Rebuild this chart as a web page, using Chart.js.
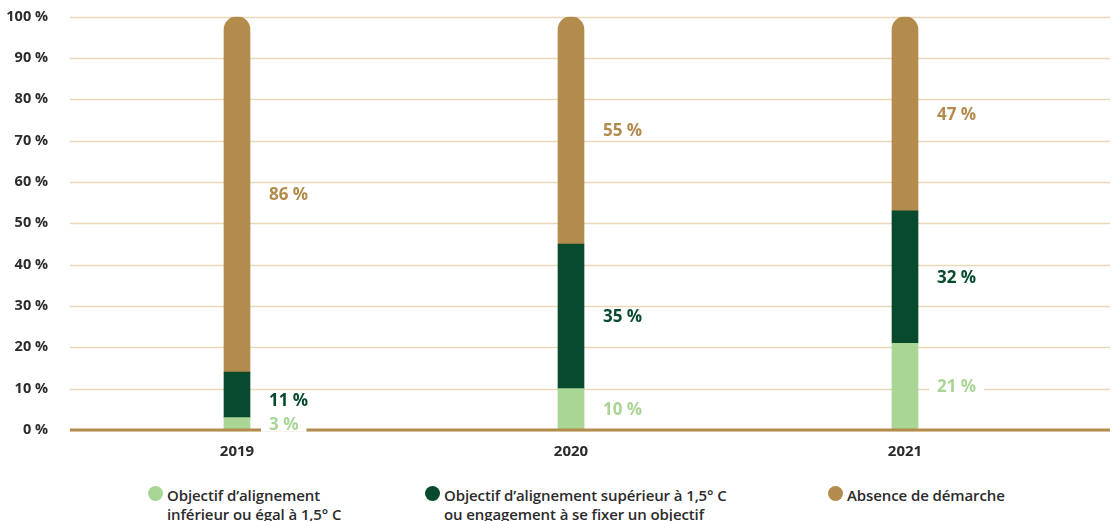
<!DOCTYPE html>
<html lang="fr">
<head>
<meta charset="utf-8">
<style>
  html, body { margin: 0; padding: 0; background: #fff; }
  body { width: 1113px; height: 521px; overflow: hidden; position: relative; font-family: "Open Sans", Lato, sans-serif; }
  #wrap { position: absolute; left: 0; top: -14px; width: 1113px; height: 480px; }
  .leg { position: absolute; top: 486px; font-size: 15px; font-weight: 600; color: #2b2b2b; line-height: 19px; padding-left: 19px; letter-spacing: -0.1px; }
  .leg i { position: absolute; left: 0; top: 0px; width: 15px; height: 15px; border-radius: 50%; }
</style>
</head>
<body>
<div id="wrap"><canvas id="alignChart"></canvas></div>
<div id="legend"></div>

<script src="https://cdn.jsdelivr.net/npm/chart.js"></script>
<script>
  // Années et parts (%) par type de démarche
  const annees = ['2019', '2020', '2021'];
  const inferieur = [3, 10, 21];
  const superieur = [11, 35, 32];
  const absence = [86, 55, 47];
  const yTicks = [0, 10, 20, 30, 40, 50, 60, 70, 80, 90, 100];

  const legendes = [
    ['Objectif d\u2019alignement', 'inférieur ou égal à 1,5° C'],
    ['Objectif d\u2019alignement supérieur à 1,5° C', 'ou engagement à se fixer un objectif'],
    ['Absence de démarche']
  ];
  const couleurs = ['#a9d595', '#074a2d', '#b38b4d'];
  const police = '"Open Sans", sans-serif';

  // grille horizontale prolongée jusqu'au bord droit
  const grille = {
    id: 'grille',
    beforeDatasetsDraw(chart) {
      const { ctx, chartArea, scales: { y } } = chart;
      ctx.save();
      yTicks.forEach(v => {
        const py = Math.round(y.getPixelForValue(v)) + 0.5;
        ctx.beginPath();
        ctx.strokeStyle = '#e9d7b8';
        ctx.lineWidth = 1.5;
        ctx.moveTo(chartArea.left, py);
        ctx.lineTo(chart.width - 3, py);
        ctx.stroke();
      });
      ctx.restore();
    },
    afterDatasetsDraw(chart) {
      const { ctx, chartArea, scales: { y } } = chart;
      const py = y.getPixelForValue(0);
      ctx.save();
      ctx.strokeStyle = '#b38b4d';
      ctx.lineWidth = 3;
      ctx.beginPath();
      ctx.moveTo(chartArea.left, py);
      ctx.lineTo(chart.width - 3, py);
      ctx.stroke();
      ctx.restore();
    }
  };

  // étiquettes de valeur à droite de chaque segment
  const etiquettes = {
    id: 'etiquettes',
    afterDatasetsDraw(chart) {
      const { ctx } = chart;
      ctx.save();
      ctx.font = '700 17px ' + police;
      ctx.textBaseline = 'middle';
      ctx.textAlign = 'left';
      chart.data.datasets.forEach((ds, i) => {
        chart.getDatasetMeta(i).data.forEach((bar, j) => {
          const txt = ds.data[j] + ' %';
          const x = bar.x + 32;
          let y = (bar.y + bar.base) / 2;
          // petit segment de 2019 : on écarte les deux étiquettes
          if (i === 1 && ds.data[j] + inferieur[j] < 16) y += 5;
          const w = ctx.measureText(txt).width;
          ctx.fillStyle = '#fff';
          ctx.fillRect(x - 8, y - 8, w + 16, 16);
          ctx.fillStyle = ds.backgroundColor;
          ctx.fillText(txt, x, y + 1);
        });
      });
      ctx.restore();
    }
  };

  new Chart(document.getElementById('alignChart'), {
    type: 'bar',
    data: {
      labels: annees,
      datasets: [
        { label: legendes[0].join(' '), data: inferieur, backgroundColor: couleurs[0] },
        { label: legendes[1].join(' '), data: superieur, backgroundColor: couleurs[1] },
        {
          label: legendes[2].join(' '), data: absence, backgroundColor: couleurs[2],
          borderRadius: { topLeft: 13, topRight: 13, bottomLeft: 0, bottomRight: 0 },
          borderSkipped: false
        }
      ]
    },
    options: {
      responsive: true,
      maintainAspectRatio: false,
      animation: false,
      barThickness: 26,
      layout: { padding: { top: 8, right: 41, left: 0, bottom: 0 } },
      plugins: { legend: { display: false }, tooltip: { enabled: false } },
      scales: {
        x: {
          stacked: true,
          grid: { display: false },
          border: { display: false },
          ticks: { color: '#2b2b2b', font: { family: police, size: 15, weight: '700' }, padding: 5 }
        },
        y: {
          stacked: true,
          min: 0,
          max: 100,
          afterFit: s => { s.width = 70; },
          afterBuildTicks: s => { s.ticks = yTicks.map(v => ({ value: v })); },
          grid: { display: false, drawTicks: false },
          border: { display: false },
          ticks: {
            color: '#2b2b2b',
            padding: 22,
            font: { family: police, size: 14.5, weight: '700' },
            callback: v => v + ' %'
          }
        }
      }
    },
    plugins: [grille, etiquettes]
  });

  // légende en trois colonnes sous le graphique
  const posLegende = [148, 425, 828];
  const leg = document.getElementById('legend');
  legendes.forEach((lignes, i) => {
    const d = document.createElement('div');
    d.className = 'leg';
    d.style.left = posLegende[i] + 'px';
    d.innerHTML = '<i style="background:' + couleurs[i] + '"></i>' + lignes.join('<br>');
    leg.appendChild(d);
  });
</script>
</body>
</html>
